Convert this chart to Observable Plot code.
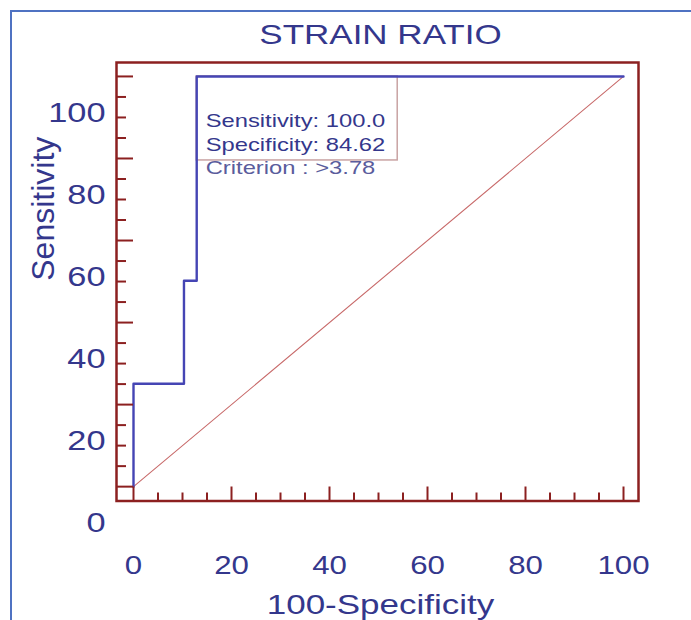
<!DOCTYPE html>
<html><head><meta charset="utf-8">
<script src="https://cdn.jsdelivr.net/npm/d3@7"></script>
<script src="https://cdn.jsdelivr.net/npm/@observablehq/plot@0.6"></script>
<style>
html,body{margin:0;padding:0;background:#fff;overflow:hidden}
#wrap{position:relative;width:691px;height:620px}
#wrap svg{display:block}
#border{position:absolute;left:10px;top:10px;right:0;bottom:0;border-top:2px solid #4f72c2;border-left:2px solid #4f72c2;pointer-events:none}
</style></head><body>
<div id="wrap"><div id="border"></div></div>
<script>
// ---- data ----
const title = "STRAIN RATIO";
const xLabel = "100-Specificity";
const yLabel = "Sensitivity";
// ROC curve: 100-Specificity vs Sensitivity (step path)
const rocFpr = [0, 0, 10.3, 10.3, 12.9, 12.9, 100];
const rocTpr = [0, 25.1, 25.1, 50.2, 50.2, 100, 100];
// reference (chance) diagonal
const refFpr = [0, 100];
const refTpr = [0, 100];
// tick values
const majorTicks = [0, 20, 40, 60, 80, 100];
const minorTicks = [5, 10, 15, 25, 30, 35, 45, 50, 55, 65, 70, 75, 85, 90, 95];
// annotation at the criterion point
const annotation = ["Sensitivity: 100.0", "Specificity: 84.62", "Criterion : >3.78"];
const criterionIndex = 5;

// ---- styling ----
const textColor = "#34378c";
const frameColor = "#8c2020";
const curveColor = "#4545b4";
const diagColor = "#c86a6a";
const boxColor = "#c9a3a3";

const roc = rocFpr.map((x, i) => ({x, y: rocTpr[i]}));
const ref = refFpr.map((x, i) => ({x, y: refTpr[i]}));
const crit = [roc[criterionIndex]];
const lineDy = [51, 75, 98];
const lineFill = [textColor, textColor, "#5a5c9c"];

const chart = Plot.plot({
  width: 691,
  height: 620,
  marginLeft: 116,
  marginRight: 53,
  marginTop: 62,
  marginBottom: 119.5,
  style: {fontFamily: "'Liberation Sans', Arial, sans-serif", background: "transparent"},
  x: {domain: [-3.47, 103.06], axis: null},
  y: {domain: [-3.5, 103.4], axis: null},
  marks: [
    Plot.rect(crit, {x1: "x", x2: "x", y1: "y", y2: "y", insetRight: -201, insetBottom: -84, fill: "white", stroke: boxColor, strokeWidth: 1.5}),
    Plot.line(ref, {x: "x", y: "y", stroke: diagColor, strokeWidth: 1.1}),
    Plot.line(roc, {x: "x", y: "y", stroke: curveColor, strokeWidth: 2.4}),
    Plot.frame({stroke: frameColor, strokeWidth: 2.5}),
    Plot.axisX({ticks: majorTicks, tickSize: -14, tickFormat: () => "", label: null, stroke: frameColor, strokeWidth: 2}),
    Plot.axisX({ticks: minorTicks, tickSize: -8, tickFormat: () => "", label: null, stroke: frameColor, strokeWidth: 2}),
    Plot.axisY({ticks: majorTicks, tickSize: -17, tickFormat: () => "", label: null, stroke: frameColor, strokeWidth: 2}),
    Plot.axisY({ticks: minorTicks, tickSize: -10, tickFormat: () => "", label: null, stroke: frameColor, strokeWidth: 2}),
    Plot.axisX({ticks: majorTicks, tickSize: 0, tickPadding: 55.5, label: null, fontSize: 25, fill: textColor}),
    Plot.axisY({ticks: majorTicks, tickSize: 0, tickPadding: 11, dy: 37, label: null, fontSize: 27.5, fill: textColor}),
    Plot.text([title], {frameAnchor: "top", lineAnchor: "bottom", dy: -19, dx: 3, fontSize: 28, fill: textColor}),
    Plot.text([xLabel], {frameAnchor: "bottom", lineAnchor: "bottom", dy: 112.5, dx: 3, fontSize: 28, fill: textColor}),
    Plot.text([yLabel], {frameAnchor: "left", rotate: -90, lineAnchor: "bottom", dx: -63, dy: -1, fontSize: 32, fill: textColor}),
    ...annotation.map((t, k) => Plot.text(crit, {x: "x", y: "y", text: () => t, textAnchor: "start", lineAnchor: "bottom", dx: 9, dy: lineDy[k], fontSize: 19, fill: lineFill[k]}))
  ]
});

// horizontally stretched lettering, as in the reference
d3.select(chart).selectAll("text").each(function() {
  const t = this.getAttribute("transform");
  if (t && !t.includes("rotate")) this.setAttribute("transform", t + " scale(1.25,1)");
});

document.getElementById("wrap").prepend(chart);
</script>
</body></html>
